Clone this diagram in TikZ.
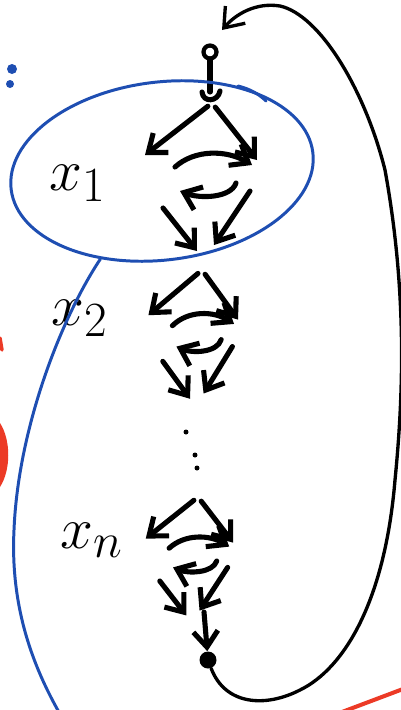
\documentclass[tikz,border=0pt]{standalone}
\usepackage{tikz}
\usetikzlibrary{positioning, arrows.meta, shapes.geometric}

\definecolor{inkblue}{RGB}{30,78,178}
\definecolor{inkred}{RGB}{236,58,38}

\begin{document}
\begin{tikzpicture}[
    x=0.02cm, y=-0.02cm,
    line cap=round, line join=round,
    stroke/.style={draw=black, line width=2.9pt},
    flow/.style={stroke, -{Straight Barb[length=9pt, width=14pt]}},
    backedge/.style={draw=black, line width=1.9pt, -{Straight Barb[length=10pt, width=15pt]}},
    grpline/.style={draw=inkblue, line width=1.7pt},
    srcnode/.style={circle, draw=black, line width=2.4pt, inner sep=0pt, minimum size=2.6mm},
    sinknode/.style={circle, fill=black, inner sep=0pt, minimum size=3.4mm},
    dotmark/.style={circle, fill=black, inner sep=0pt, minimum size=1mm},
    varlabel/.style={font=\Huge, scale=1.35},
]

\useasboundingbox (0,0) rectangle (401,710);

% Entry point and exit
\node[srcnode] (src) at (210,52) {};
\coordinate (stem) at (210,92);
\coordinate (cupl) at (202,92);
\coordinate (cupr) at (220,91);
\draw[stroke] (src) -- (stem);
\draw[stroke] (cupl) .. controls +(1,11) and +(-2,11) .. (cupr);

\node[sinknode] (sink) at (208,660) {};
\coordinate (exit) at (204,612);
\draw[flow] (exit) -- (sink);

% The repeated blocks
\foreach \k/\tx/\ty/\sx/\sy/\lbl/\lx/\ly in {1/212/103/1/1/x_1/78/183,
                                             2/202/270/0.8/0.87/x_2/80/318,
                                             3/198/497/0.78/0.8/x_n/92/540} {
    \begin{scope}[shift={(\tx,\ty)}, xscale=\sx, yscale=\sy]
        \coordinate (t\k)   at (0,0);
        \coordinate (l\k)   at (-67,52);
        \coordinate (r\k)   at (45,57);
        \coordinate (us\k)  at (-37,64);
        \coordinate (ue\k)  at (40,62);
        \coordinate (ls\k)  at (24,80);
        \coordinate (le\k)  at (-32,88);
        \coordinate (dls\k) at (-49,105);
        \coordinate (dle\k) at (-15,148);
        \coordinate (drs\k) at (38,88);
        \coordinate (dre\k) at (2,142);
        \draw[flow, shorten <=3pt] (t\k) -- (l\k);
        \draw[flow, shorten <=3pt] (t\k) -- (r\k);
        \draw[flow] (us\k) .. controls +(20,-18) and +(-25,-15) .. (ue\k);
        \draw[flow] (ls\k) .. controls +(-5,15) and +(20,8) .. (le\k);
        \draw[flow] (dls\k) -- (dle\k);
        \draw[flow] (drs\k) -- (dre\k);
    \end{scope}
    \node[varlabel] (lab\k) at (\lx,\ly) {$\lbl$};
}

% Vertical dots between blocks
\foreach \i/\x/\y in {1/186/432, 2/195/455, 3/197/468}
    \node[dotmark] (dot\i) at (\x,\y) {};

% Feedback from the exit back to the entry
\coordinate (loopin) at (222,30);
\draw[backedge] (sink) .. controls (225,705) and (265,708) .. (300,690)
    .. controls (345,668) and (385,600) .. (395,480)
    .. controls (405,380) and (405,280) .. (385,170)
    .. controls (365,90) and (320,15) .. (280,6)
    .. controls (255,2) and (235,15) .. (loopin);

% Blue grouping of the first block
\node[ellipse, grpline, minimum width=6.08cm, minimum height=3.56cm, rotate=7] (grp) at (162,171) {};
\draw[grpline] (238,86) .. controls (250,89) and (259,94) .. (266,101);
\coordinate (tailend) at (60,714);
\draw[grpline] (grp.228) .. controls (60,320) and (18,430) .. (14,530)
    .. controls (10,610) and (35,670) .. (tailend);
\fill[inkblue] (12,69) circle[radius=5];
\fill[inkblue] (10,84) circle[radius=4];

% Red marks at the edges
\draw[inkred, line width=2pt] (0,338) -- (2,350);
\fill[inkred] (0,423) .. controls (11,440) and (11,470) .. (0,487) -- cycle;
\draw[inkred, line width=2.3pt] (342,712) -- (403,689);

\end{tikzpicture}
\end{document}
